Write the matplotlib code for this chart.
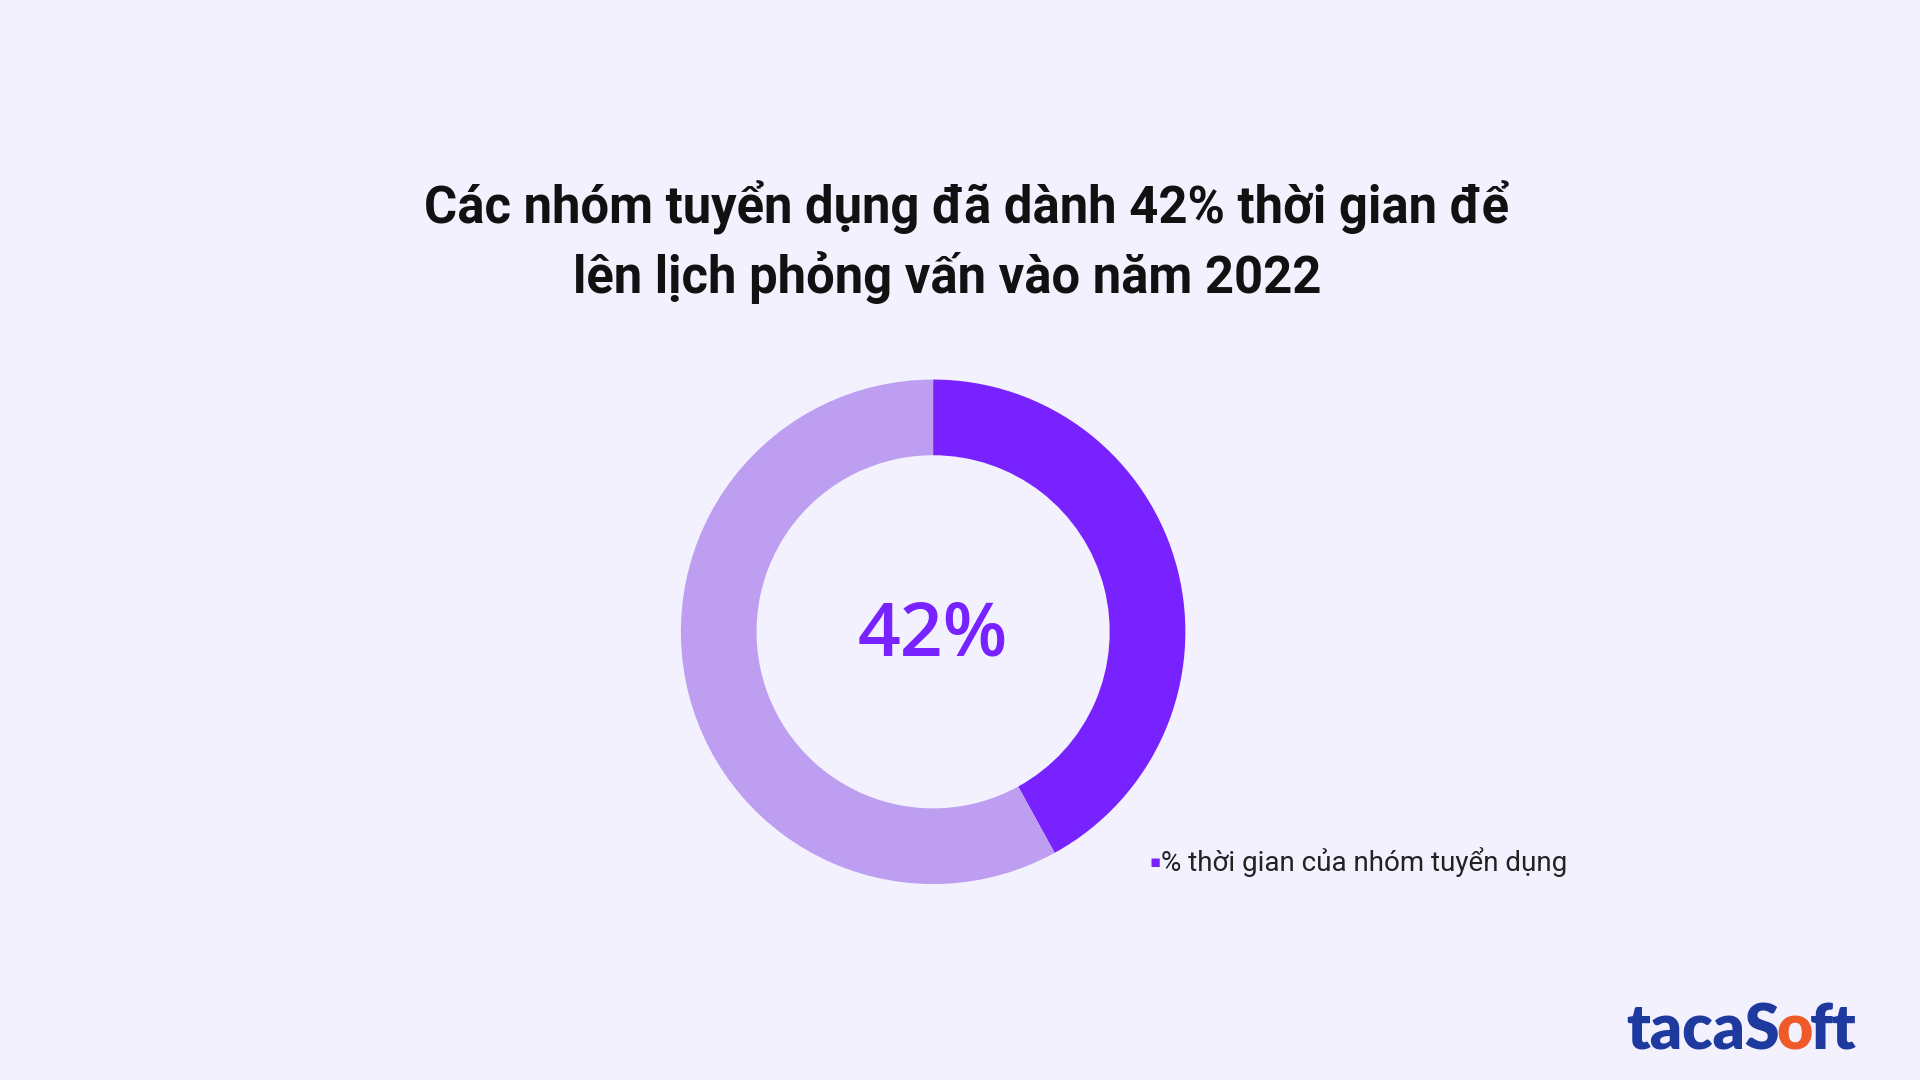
import matplotlib
matplotlib.use("Agg")
import matplotlib.pyplot as plt

labels = ["% thời gian của nhóm tuyển dụng", "Khác"]
values = [42, 58]
colors = ["#7722FF", "#BD9EF0"]
title_lines = ["Các nhóm tuyển dụng đã dành 42% thời gian để",
               "lên lịch phỏng vấn vào năm 2022"]
center_label = "42%"

bg = "#F3F1FE"
fig = plt.figure(figsize=(19.2, 10.8), dpi=100, facecolor=bg)

r = 206 / 882
h = 2 * r
w = h * 1080 / 1920
ax = fig.add_axes([0.486 - w / 2, 0.415 - h / 2, w, h])
ax.set_facecolor(bg)
ax.pie(values, colors=colors, startangle=90, counterclock=False,
       radius=1, wedgeprops=dict(width=0.30, linewidth=0))
ax.set_xlim(-1, 1); ax.set_ylim(-1, 1); ax.set_aspect("equal"); ax.axis("off")
ax.text(0, -0.02, center_label, ha="center", va="center", fontsize=54,
        fontweight="semibold", family="Open Sans", color=colors[0])

fig.text(0.5035, 1 - 170 / 882, title_lines[0], ha="center", va="center",
         fontsize=36.5, fontweight="bold", family="Roboto", color="#111111")
fig.text(0.4935, 1 - 227 / 882, title_lines[1], ha="center", va="center",
         fontsize=36.5, fontweight="bold", family="Roboto", color="#111111")

ly = 1 - 704 / 882
fig.text(0.5985, ly, "▪", ha="left", va="center", fontsize=12,
         color=colors[0], family="DejaVu Sans")
fig.text(0.6045, ly, labels[0], ha="left", va="center", fontsize=20,
         family="Roboto", color="#222222")

fig.canvas.draw()
rend = fig.canvas.get_renderer()
x = 1328 / 1568
y = 1 - 842 / 882
for part, c in [("tacaS", "#1F3A9E"), ("o", "#F05A28"), ("ft", "#1F3A9E")]:
    t = fig.text(x, y, part, ha="left", va="center", fontsize=45,
                 fontweight="heavy", family="Lato", color=c)
    bb = t.get_window_extent(rend)
    x += bb.width / 1920 - 0.0015

fig.savefig("out.png", dpi=100, facecolor=bg)
